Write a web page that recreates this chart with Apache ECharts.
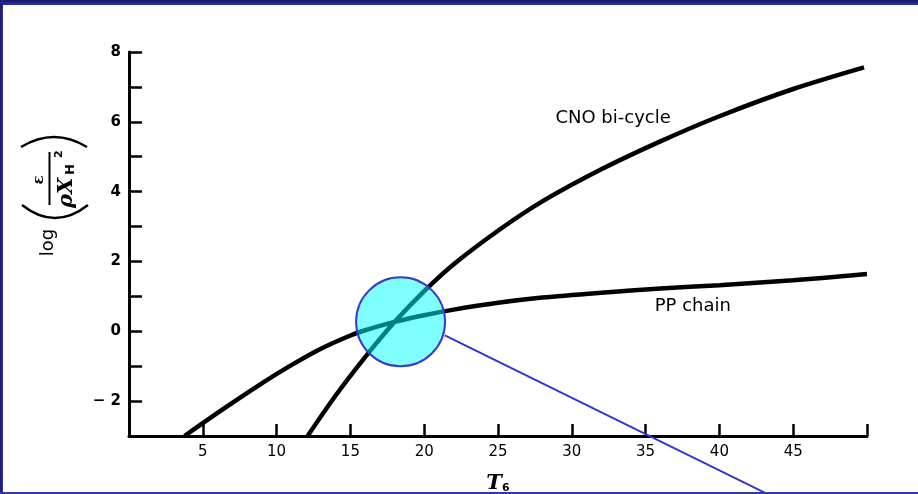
<!DOCTYPE html>
<html>
<head>
<meta charset="utf-8">
<script src="https://cdn.jsdelivr.net/npm/echarts@6/dist/echarts.min.js"></script>
<style>
  html, body { margin: 0; padding: 0; background: #ffffff; }
  #chart { width: 918px; height: 494px; }
</style>
</head>
<body>
<div id="chart"></div>
<script>
// Temperature in millions of K (T6)
var ppT   = [3.76, 5, 7, 9, 11, 13, 15, 16, 18, 20, 22, 25, 28, 32, 36, 40, 45, 50];
var ppLog = [-3.0, -2.63, -2.05, -1.49, -0.97, -0.5, -0.12, 0.03, 0.27, 0.46, 0.62, 0.815, 0.965, 1.105, 1.225, 1.32, 1.46, 1.64];

var cnoT   = [12.1, 14, 16, 18, 20, 22, 25, 28, 32, 36, 40, 45, 49.8];
var cnoLog = [-3.0, -1.84, -0.74, 0.27, 1.15, 1.92, 2.88, 3.72, 4.64, 5.44, 6.16, 6.94, 7.56];

var xTickValues = [5, 10, 15, 20, 25, 30, 35, 40, 45];
var xTickLabels = ['5', '10', '15', '20', '25', '30', '35', '40', '45'];
var yTickValues = [-2, 0, 2, 4, 6, 8];
var yTickLabels = ['\u2212 2', '0', '2', '4', '6', '8'];

// curve names placed beside each curve
var curveNames = ['CNO bi-cycle', 'PP chain'];
var curveNamePos = [[32.8, 6.09], [38.2, 0.71]];

// highlighted crossing and its pointer line
var crossing = [18.4, 0.27];
var pointer = [[21.4, -0.12], [43.1, -4.63]];

function zip(a, b) { return a.map(function (v, i) { return [v, b[i]]; }); }

var chart = echarts.init(document.getElementById('chart'), null, { renderer: 'canvas' });

var labelFont = '"DejaVu Sans", sans-serif';

var option = {
  animation: false,
  backgroundColor: '#ffffff',
  grid: { left: 129, right: 51, top: 52, bottom: 58, containLabel: false, outerBoundsMode: 'none' },
  xAxis: {
    type: 'value', min: 0, max: 50, interval: 5,
    name: '{t|T}{s|6}', nameLocation: 'middle', nameGap: 37,
    nameTextStyle: {
      rich: {
        t: { fontFamily: '"DejaVu Serif", serif', fontStyle: 'italic', fontWeight: 'bold', fontSize: 21, color: '#000' },
        s: { fontFamily: labelFont, fontWeight: 'bold', fontSize: 11, color: '#000', padding: [10, 0, 0, 0] }
      }
    },
    axisLine: { onZero: false, lineStyle: { color: '#000', width: 3 } },
    axisTick: { inside: true, length: 12, lineStyle: { color: '#000', width: 2.5 } },
    axisLabel: {
      margin: 9, color: '#000', fontSize: 15, fontFamily: labelFont,
      formatter: function (v) { var i = xTickValues.indexOf(v); return i >= 0 ? xTickLabels[i] : ''; }
    },
    splitLine: { show: false }
  },
  yAxis: {
    type: 'value', min: -3, max: 8, interval: 1,
    axisLine: { onZero: false, lineStyle: { color: '#000', width: 3 } },
    axisTick: { inside: true, length: 13, lineStyle: { color: '#000', width: 2.5 } },
    axisLabel: {
      margin: 8, color: '#000', fontSize: 15, fontWeight: 'bold', fontFamily: labelFont,
      formatter: function (v) { var i = yTickValues.indexOf(v); return i >= 0 ? yTickLabels[i] : ''; }
    },
    splitLine: { show: false }
  },
  series: [
    {
      name: 'PP chain', type: 'line', data: zip(ppT, ppLog), smooth: 0.3, showSymbol: false,
      lineStyle: { color: '#000', width: 4.5 }, z: 2
    },
    {
      name: 'CNO bi-cycle', type: 'line', data: zip(cnoT, cnoLog), smooth: 0.3, showSymbol: false,
      lineStyle: { color: '#000', width: 4.5 }, z: 2
    },
    {
      type: 'scatter', data: [crossing], symbol: 'circle', symbolSize: 89, silent: true,
      itemStyle: { color: 'rgba(0,255,255,0.5)', borderColor: '#3a3acc', borderWidth: 2, opacity: 1 }, z: 5
    },
    {
      type: 'line', data: pointer, showSymbol: false, clip: false, silent: true,
      lineStyle: { color: '#3535cc', width: 2 }, z: 5
    },
    {
      type: 'scatter', symbolSize: 1, silent: true,
      itemStyle: { color: 'rgba(0,0,0,0)', opacity: 1 },
      data: curveNamePos.map(function (p, i) { return { value: p, name: curveNames[i] }; }),
      label: {
        show: true, position: 'inside', formatter: '{b}',
        color: '#000', fontSize: 18, fontFamily: labelFont
      }
    }
  ],
  graphic: [
    {
      type: 'rect', shape: { x: 0, y: 0, width: 918, height: 5 },
      style: { fill: new echarts.graphic.LinearGradient(0, 0, 0, 1, [{ offset: 0, color: '#17175e' }, { offset: 1, color: '#2d2db0' }]) }
    },
    {
      type: 'rect', shape: { x: 0, y: 0, width: 3, height: 494 },
      style: { fill: new echarts.graphic.LinearGradient(0, 0, 1, 0, [{ offset: 0, color: '#17175e' }, { offset: 1, color: '#3030b5' }]) }
    },
    { type: 'rect', shape: { x: 0, y: 492, width: 918, height: 2 }, style: { fill: '#3535b5' } },
    {
      // vertical axis title: log( epsilon / (rho X_H^2) ), read bottom to top
      type: 'group', x: 50, y: 200, rotation: Math.PI / 2,
      children: [
        { type: 'text', x: -42.5, y: -1.5, style: { text: 'log', font: '18px "DejaVu Sans", sans-serif', fill: '#000', align: 'center', verticalAlign: 'middle' } },
        { type: 'bezierCurve', shape: { x1: -5, y1: -28, cpx1: -31, cpy1: 5, x2: -5, y2: 38 }, style: { stroke: '#000', lineWidth: 2.5, fill: null } },
        { type: 'bezierCurve', shape: { x1: 53, y1: -29, cpx1: 73, cpy1: 4, x2: 53, y2: 37 }, style: { stroke: '#000', lineWidth: 2.5, fill: null } },
        { type: 'line', shape: { x1: -5, y1: -0.5, x2: 48, y2: -0.5 }, style: { stroke: '#000', lineWidth: 2 } },
        { type: 'text', x: 20, y: -11, style: { text: '\u03b5', font: 'bold 15px "DejaVu Serif", serif', fill: '#000', align: 'center', verticalAlign: 'middle' } },
        { type: 'text', x: -8, y: 27, style: { text: '\u03c1X', font: 'italic bold 21px "DejaVu Serif", serif', fill: '#000', align: 'left', verticalAlign: 'bottom' } },
        { type: 'text', x: 25, y: 27, style: { text: 'H', font: 'bold 13px "DejaVu Sans", sans-serif', fill: '#000', align: 'left', verticalAlign: 'bottom' } },
        { type: 'text', x: 42, y: 15, style: { text: '2', font: 'bold 11px "DejaVu Sans", sans-serif', fill: '#000', align: 'left', verticalAlign: 'bottom' } }
      ]
    }
  ]
};

chart.setOption(option);
</script>
</body>
</html>
